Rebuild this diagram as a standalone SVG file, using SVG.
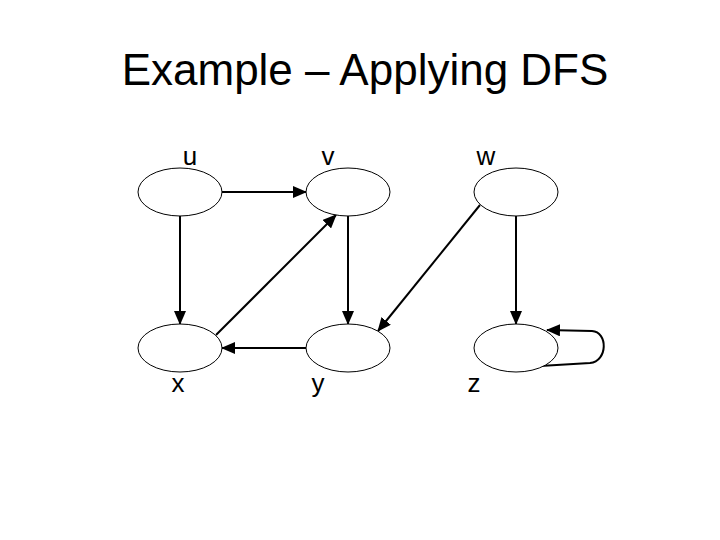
<svg xmlns="http://www.w3.org/2000/svg" width="720" height="540" viewBox="0 0 720 540">
<defs>
<marker id="ah" markerWidth="14" markerHeight="12" refX="13" refY="6" orient="auto" markerUnits="userSpaceOnUse">
<path d="M0,0 L14,6 L0,12 Z" fill="#000"/>
</marker>
<style>
.n{fill:#fff;stroke:#000;stroke-width:1}
.t{font-family:"Liberation Sans",Arial,sans-serif;fill:#000}
.lb{font-size:26px}
.e{fill:none;stroke:#000;stroke-width:2;marker-end:url(#ah)}
</style>
</defs>
<rect width="720" height="540" fill="#fff"/>
<text class="t" x="365" y="85" font-size="44" text-anchor="middle">Example – Applying DFS</text>
<g id="connectors">
<line class="e" x1="222" y1="192" x2="306" y2="192"/>
<line class="e" x1="180" y1="216" x2="180" y2="324"/>
<line class="e" x1="348" y1="216" x2="348" y2="324"/>
<line class="e" x1="306" y1="348" x2="222" y2="348"/>
<line class="e" x1="216" y1="335" x2="336" y2="215"/>
<line class="e" x1="480" y1="205" x2="378" y2="331"/>
<line class="e" x1="516" y1="216" x2="516" y2="324"/>
<path class="e" d="M540,366 L590,363 C608,361 608,332 592,331 L547,330"/>
</g>
<g id="node-u"><ellipse class="n" cx="180" cy="192" rx="42" ry="24"/><text class="t lb" x="190" y="165" text-anchor="middle">u</text></g>
<g id="node-v"><ellipse class="n" cx="348" cy="192" rx="42" ry="24"/><text class="t lb" x="328" y="165" text-anchor="middle">v</text></g>
<g id="node-w"><ellipse class="n" cx="516" cy="192" rx="42" ry="24"/><text class="t lb" x="486" y="165" text-anchor="middle">w</text></g>
<g id="node-x"><ellipse class="n" cx="180" cy="348" rx="42" ry="24"/><text class="t lb" x="178" y="392" text-anchor="middle">x</text></g>
<g id="node-y"><ellipse class="n" cx="348" cy="348" rx="42" ry="24"/><text class="t lb" x="318" y="392" text-anchor="middle">y</text></g>
<g id="node-z"><ellipse class="n" cx="516" cy="348" rx="42" ry="24"/><text class="t lb" x="474" y="392" text-anchor="middle">z</text></g>
</svg>
